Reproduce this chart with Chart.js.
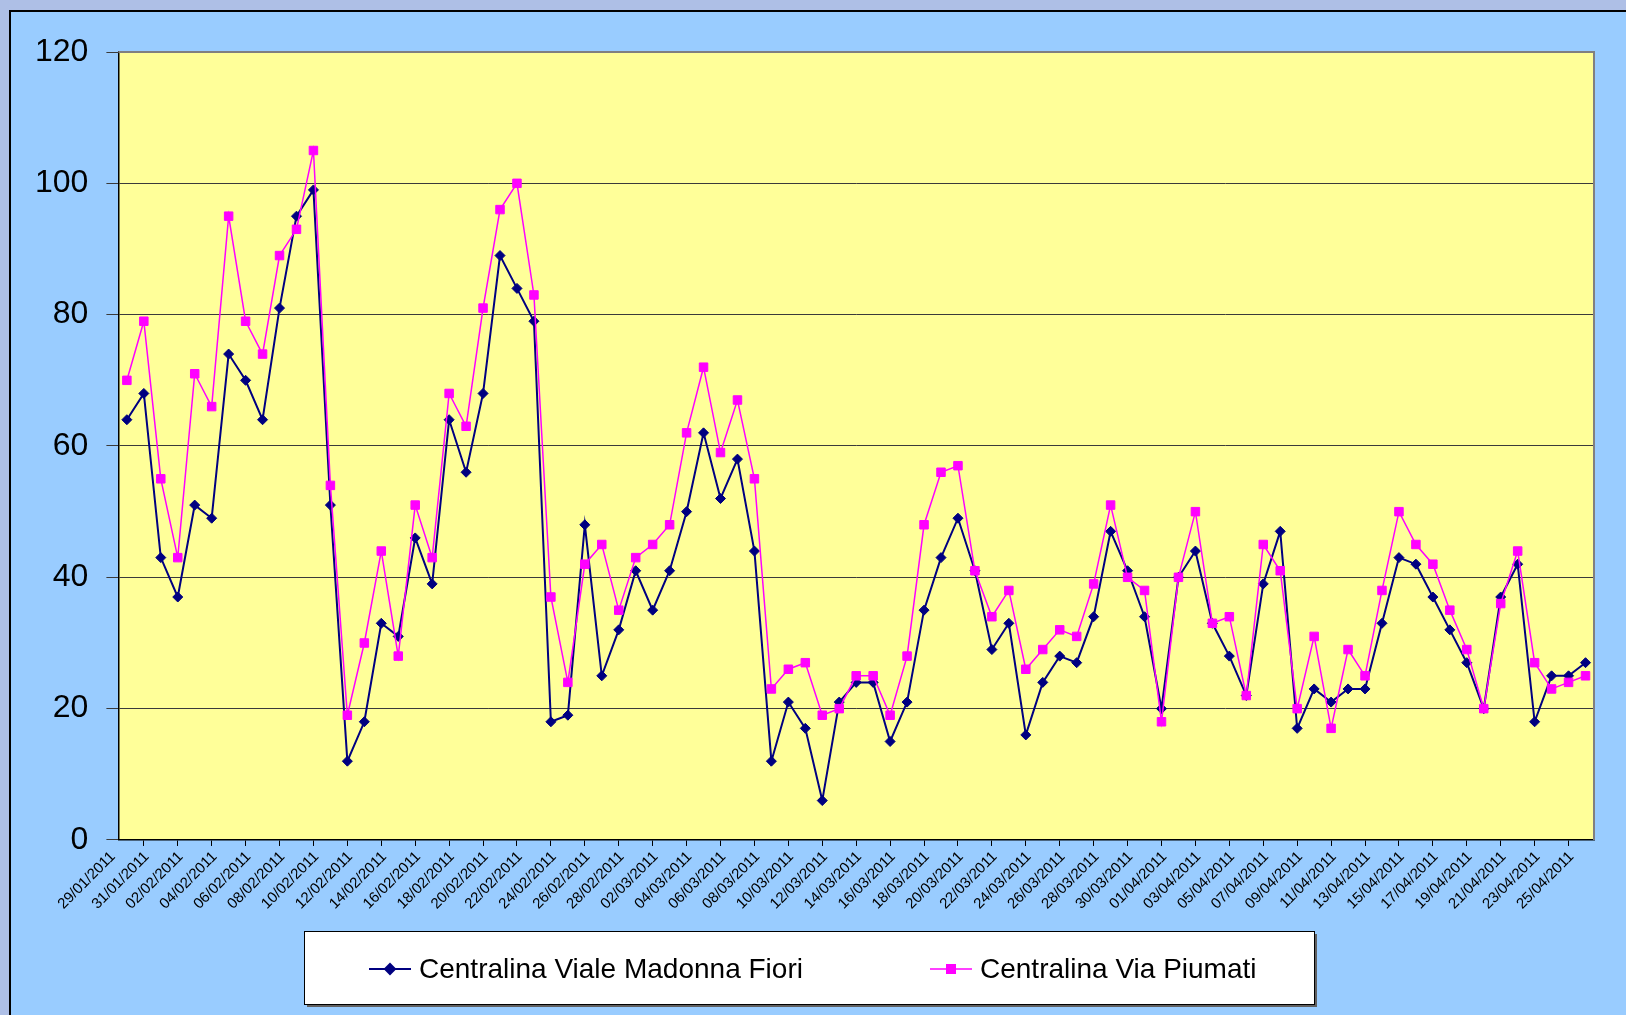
<!DOCTYPE html>
<html>
<head>
<meta charset="utf-8">
<script src="https://cdn.jsdelivr.net/npm/chart.js@4.4.0/dist/chart.umd.min.js"></script>
<style>
  html, body { margin: 0; padding: 0; width: 1626px; height: 1015px; overflow: hidden; background: #aebfe6; }
  #frame { position: absolute; left: 9px; top: 10px; width: 1640px; height: 1030px; background: #99ccff;
           border-left: 2px solid #000; border-top: 2px solid #000; }
  #wrap { position: absolute; left: 0; top: 0; width: 1626px; height: 1015px; }
</style>
</head>
<body>
<div id="frame"></div>
<div id="wrap"><canvas id="chart" width="1626" height="1015"></canvas></div>
<script>
const dates = [
  '29/01/2011', '30/01/2011', '31/01/2011',
  '01/02/2011', '02/02/2011', '03/02/2011', '04/02/2011', '05/02/2011', '06/02/2011', '07/02/2011',
  '08/02/2011', '09/02/2011', '10/02/2011', '11/02/2011', '12/02/2011', '13/02/2011', '14/02/2011',
  '15/02/2011', '16/02/2011', '17/02/2011', '18/02/2011', '19/02/2011', '20/02/2011', '21/02/2011',
  '22/02/2011', '23/02/2011', '24/02/2011', '25/02/2011', '26/02/2011', '27/02/2011', '28/02/2011',
  '01/03/2011', '02/03/2011', '03/03/2011', '04/03/2011', '05/03/2011', '06/03/2011', '07/03/2011',
  '08/03/2011', '09/03/2011', '10/03/2011', '11/03/2011', '12/03/2011', '13/03/2011', '14/03/2011',
  '15/03/2011', '16/03/2011', '17/03/2011', '18/03/2011', '19/03/2011', '20/03/2011', '21/03/2011',
  '22/03/2011', '23/03/2011', '24/03/2011', '25/03/2011', '26/03/2011', '27/03/2011', '28/03/2011',
  '29/03/2011', '30/03/2011', '31/03/2011',
  '01/04/2011', '02/04/2011', '03/04/2011', '04/04/2011', '05/04/2011', '06/04/2011', '07/04/2011',
  '08/04/2011', '09/04/2011', '10/04/2011', '11/04/2011', '12/04/2011', '13/04/2011', '14/04/2011',
  '15/04/2011', '16/04/2011', '17/04/2011', '18/04/2011', '19/04/2011', '20/04/2011', '21/04/2011',
  '22/04/2011', '23/04/2011', '24/04/2011', '25/04/2011'
];

const madonnaFiori = [
  64, 68, 43, 37, 51, 49, 74, 70, 64, 81,
  95, 99, 51, 12, 18, 33, 31, 46, 39, 64,
  56, 68, 89, 84, 79, 18, 19, 48, 25, 32,
  41, 35, 41, 50, 62, 52, 58, 44, 12, 21,
  17, 6, 21, 24, 24, 15, 21, 35, 43, 49,
  41, 29, 33, 16, 24, 28, 27, 34, 47, 41,
  34, 20, 40, 44, 33, 28, 22, 39, 47, 17,
  23, 21, 23, 23, 33, 43, 42, 37, 32, 27,
  20, 37, 42, 18, 25, 25, 27
];

const piumati = [
  70, 79, 55, 43, 71, 66, 95, 79, 74, 89,
  93, 105, 54, 19, 30, 44, 28, 51, 43, 68,
  63, 81, 96, 100, 83, 37, 24, 42, 45, 35,
  43, 45, 48, 62, 72, 59, 67, 55, 23, 26,
  27, 19, 20, 25, 25, 19, 28, 48, 56, 57,
  41, 34, 38, 26, 29, 32, 31, 39, 51, 40,
  38, 18, 40, 50, 33, 34, 22, 45, 41, 20,
  31, 17, 29, 25, 38, 50, 45, 42, 35, 29,
  20, 36, 44, 27, 23, 24, 25
];

const seriesNames = ['Centralina Viale Madonna Fiori', 'Centralina Via Piumati'];
const yTicks = [0, 20, 40, 60, 80, 100, 120];

const navy = '#000080';
const magenta = '#ff00ff';
const font = "'Liberation Sans', Arial, sans-serif";

// yellow plot area + grey frame on top/right
const plotArea = {
  id: 'plotArea',
  beforeDraw(chart) {
    const { ctx, chartArea: a } = chart;
    ctx.save();
    ctx.fillStyle = '#ffff99';
    ctx.fillRect(a.left, a.top, a.right - a.left, a.bottom - a.top);
    ctx.restore();
  },
  afterDraw(chart) {
    const { ctx, chartArea: a } = chart;
    ctx.save();
    ctx.strokeStyle = '#808080';
    ctx.lineWidth = 2;
    ctx.beginPath();
    ctx.moveTo(a.left, a.top);
    ctx.lineTo(a.right, a.top);
    ctx.lineTo(a.right, a.bottom);
    ctx.stroke();
    ctx.restore();
  }
};

// Excel-like boxed legend: line with marker in the middle, then the name
const boxLegend = {
  id: 'boxLegend',
  afterDraw(chart) {
    const { ctx } = chart;
    const box = { x: 304, y: 931, w: 1010, h: 73 };
    ctx.save();
    ctx.fillStyle = '#606060';
    ctx.fillRect(box.x + 3, box.y + 3, box.w, box.h);
    ctx.fillStyle = '#ffffff';
    ctx.fillRect(box.x, box.y, box.w, box.h);
    ctx.strokeStyle = '#000';
    ctx.lineWidth = 1;
    ctx.strokeRect(box.x + 0.5, box.y + 0.5, box.w, box.h);

    const starts = [369, 930];
    const cy = 969;
    chart.data.datasets.forEach((ds, i) => {
      const x0 = starts[i];
      ctx.strokeStyle = ds.borderColor;
      ctx.lineWidth = ds.borderWidth;
      ctx.beginPath();
      ctx.moveTo(x0, cy);
      ctx.lineTo(x0 + 42, cy);
      ctx.stroke();
      Chart.helpers.drawPoint(ctx, {
        pointStyle: ds.pointStyle, radius: ds.pointRadius, borderWidth: 1
      }, x0 + 21, cy);
      ctx.fillStyle = ds.pointBackgroundColor;
      ctx.fill();
      ctx.fillStyle = '#000';
      ctx.font = "28px " + font;
      ctx.textBaseline = 'alphabetic';
      ctx.textAlign = 'left';
      ctx.fillText(ds.label, x0 + 50, 978);
    });
    ctx.restore();
  }
};

new Chart(document.getElementById('chart'), {
  type: 'line',
  data: {
    labels: dates,
    datasets: [
      {
        label: seriesNames[0], data: madonnaFiori, order: 1,
        borderColor: navy, borderWidth: 2,
        pointStyle: 'rectRot', pointRadius: 5, pointBackgroundColor: navy, pointBorderColor: navy, pointBorderWidth: 1,
        tension: 0
      },
      {
        label: seriesNames[1], data: piumati, order: 0,
        borderColor: magenta, borderWidth: 1.5,
        pointStyle: 'rect', pointRadius: 6, pointBackgroundColor: magenta, pointBorderColor: magenta, pointBorderWidth: 1,
        tension: 0
      }
    ]
  },
  options: {
    responsive: false,
    animation: false,
    events: [],
    layout: { padding: { left: 17, top: 52, right: 32, bottom: 100 } },
    plugins: { legend: { display: false }, tooltip: { enabled: false } },
    scales: {
      x: {
        offset: true,
        grid: { drawOnChartArea: false, drawTicks: true, tickLength: 6, offset: true, color: '#000' },
        border: { display: true, color: '#000', width: 1.5 },
        ticks: {
          autoSkip: false, maxRotation: 45, minRotation: 45, padding: 2, labelOffset: -14,
          color: '#000', font: { family: font, size: 15 },
          callback: (v, i) => (i % 2 === 0 ? dates[i] : null)
        }
      },
      y: {
        min: yTicks[0], max: yTicks[yTicks.length - 1],
        afterBuildTicks: (axis) => { axis.ticks = yTicks.map(v => ({ value: v })); },
        grid: { color: '#3a3a3a', lineWidth: 1, tickLength: 12 },
        border: { display: true, color: '#000', width: 1.5 },
        ticks: { padding: 18, color: '#000', font: { family: font, size: 32 } }
      }
    }
  },
  plugins: [plotArea, boxLegend]
});
</script>
</body>
</html>
